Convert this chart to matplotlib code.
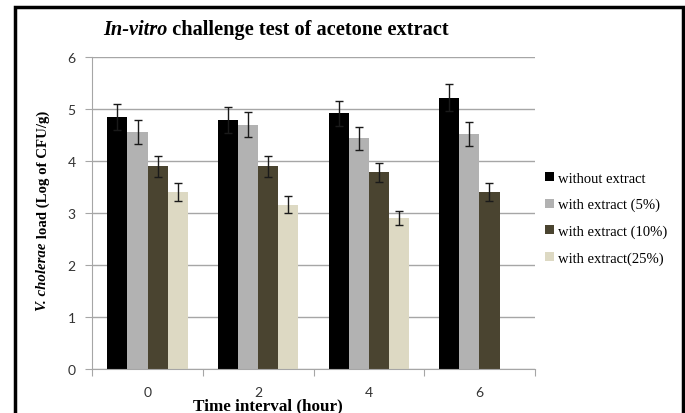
import numpy as np
import matplotlib
matplotlib.use("Agg")
import matplotlib.pyplot as plt
from matplotlib.patches import Rectangle


hours = ["0", "2", "4", "6"]
series_names = ["without extract", "with extract (5%)", "with extract (10%)", "with extract(25%)"]

without_extract = [4.85, 4.79, 4.92, 5.22]
extract_5 = [4.55, 4.70, 4.44, 4.52]
extract_10 = [3.90, 3.90, 3.78, 3.40]
extract_25 = [3.40, 3.16, 2.90, None]

err_without = [0.25, 0.25, 0.24, 0.26]
err_5 = [0.23, 0.24, 0.22, 0.23]
err_10 = [0.20, 0.20, 0.19, 0.17]
err_25 = [0.17, 0.16, 0.14, None]

colors = ["#000000", "#b2b2b2", "#4a4430", "#ddd9c3"]

W, H = 685, 414
fig = plt.figure(figsize=(W / 100, H / 100), dpi=100)
ax = fig.add_axes([92.3 / W, 1 - 370 / H, (534.7 - 92.3) / W, (370 - 58) / H])

serif = "Liberation Serif"
sans = "Lato"

x = np.arange(len(hours))
width = 0.182
all_vals = [without_extract, extract_5, extract_10, extract_25]
all_errs = [err_without, err_5, err_10, err_25]

# draw each series, skipping missing values
for i, (vals, errs) in enumerate(zip(all_vals, all_errs)):
    idx = [k for k, v in enumerate(vals) if v is not None]
    xs = x[idx] + (i - 1.5) * width
    hs = [vals[k] for k in idx]
    es = [errs[k] for k in idx]
    ax.bar(xs, hs, width, color=colors[i], label=series_names[i], zorder=2)
    ax.errorbar(xs, hs, yerr=es, fmt="none", ecolor="#1a1a1a", elinewidth=1,
                capsize=3, capthick=1, zorder=3)

ax.set_xlim(-0.5, len(hours) - 0.5)
ax.set_ylim(0, 6)
ax.set_yticks(range(0, 7))
ax.yaxis.grid(True, color="#a6a6a6", linewidth=1, zorder=0)
ax.set_axisbelow(True)

for side in ["top", "right"]:
    ax.spines[side].set_visible(False)
for side in ["left", "bottom"]:
    ax.spines[side].set_color("#a6a6a6")

ax.tick_params(axis="y", length=5, color="#a6a6a6", pad=7, labelsize=10, labelcolor="#333333")
for lab in ax.get_yticklabels():
    lab.set_fontfamily(sans)

# boundaries get tick marks, centres get the labels
ax.set_xticks(np.arange(-0.5, len(hours), 1.0))
ax.set_xticklabels([])
ax.tick_params(axis="x", which="major", length=5, color="#a6a6a6")
ax.set_xticks(x, minor=True)
ax.set_xticklabels(hours, minor=True, fontfamily=sans, fontsize=10, color="#333333")
ax.tick_params(axis="x", which="minor", length=0, pad=12)

# legend
handles, labels = ax.get_legend_handles_labels()
fig.legend(handles, labels, loc="upper left", bbox_to_anchor=(539 / W, 1 - 167 / H),
           frameon=False, prop={"family": serif, "size": 10.5}, handlelength=0.6,
           handleheight=0.6, handletextpad=0.3, labelspacing=0.9, borderaxespad=0)

# title with italic part
t1 = fig.text(103 / W, 1 - 35 / H, "In-vitro", fontfamily=serif, fontsize=14.7,
              fontweight="bold", fontstyle="italic", va="baseline", ha="left")
ax.annotate(" challenge test of acetone extract", xy=(1, 0), xycoords=t1,
            fontfamily=serif, fontsize=14.7, fontweight="bold", va="bottom", ha="left",
            annotation_clip=False)

# y label with italic species name
y1 = fig.text(43 / W, 1 - 311 / H, "V. cholerae", rotation=90, fontfamily=serif,
              fontsize=10.7, fontweight="bold", fontstyle="italic", ha="center", va="bottom")
ax.annotate(" load (Log of CFU/g)", xy=(0.5, 1), xycoords=y1, rotation=90,
            fontfamily=serif, fontsize=10.7, fontweight="bold", ha="center", va="bottom",
            annotation_clip=False)

fig.text(268 / W, 1 - 410 / H, "Time interval (hour)", fontfamily=serif, fontsize=12.3,
         fontweight="bold", ha="center", va="baseline")

# outer frame, bottom edge runs off the image
fig.patches.append(Rectangle((15 / W, -0.05), (683 - 15) / W, 1.05 - 7.5 / H,
                             transform=fig.transFigure, fill=False, edgecolor="black",
                             linewidth=2.5))

fig.savefig("out.png", dpi=100)
